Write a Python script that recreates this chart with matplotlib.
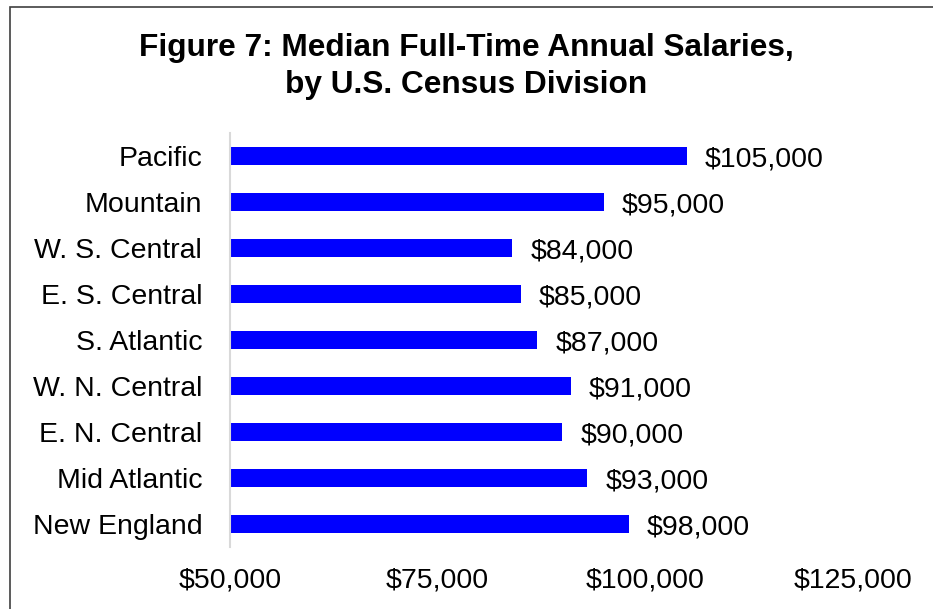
import matplotlib.pyplot as plt
from matplotlib.patches import Rectangle
from matplotlib.ticker import FuncFormatter

plt.rcParams['font.family'] = ['Liberation Sans', 'DejaVu Sans']

divisions = ["New England", "Mid Atlantic", "E. N. Central", "W. N. Central",
             "S. Atlantic", "E. S. Central", "W. S. Central", "Mountain", "Pacific"]
salaries = [98000, 93000, 90000, 91000, 87000, 85000, 84000, 95000, 105000]
x_ticks = [50000, 75000, 100000, 125000]

fig = plt.figure(figsize=(9.33, 6.09), dpi=100)
ax = fig.add_axes([0.2465, 0.1018, 0.6678, 0.6798])

pos = range(len(divisions))
ax.barh(pos, [s - x_ticks[0] for s in salaries], left=x_ticks[0], height=0.4,
        color='#0000FF', edgecolor='none')

for y, s in zip(pos, salaries):
    ax.annotate(f"${s:,.0f}", (s, y), xytext=(13, 0), textcoords='offset points',
                va='center_baseline', ha='left', fontsize=20.5, color='black')

ax.set_xlim(x_ticks[0], x_ticks[-1])
ax.set_ylim(-0.5, len(divisions) - 0.5)
ax.set_xticks(x_ticks)
ax.xaxis.set_major_formatter(FuncFormatter(lambda v, p: f"${v:,.0f}"))
ax.set_yticks(list(pos))
ax.set_yticklabels(divisions)
ax.tick_params(axis='x', length=0, pad=15, labelsize=20.5)
ax.tick_params(axis='y', length=0, pad=20, labelsize=20.5)

for side in ['top', 'right', 'bottom']:
    ax.spines[side].set_visible(False)
ax.spines['left'].set_color('#d9d9d9')
ax.spines['left'].set_linewidth(1.5)

fig.text(0.5, 0.891, "Figure 7: Median Full-Time Annual Salaries,\nby U.S. Census Division",
         ha='center', va='center', fontsize=22.8, fontweight='bold', linespacing=1.32)

# outer chart frame (runs off the right and bottom edges)
fig.patches.append(Rectangle((10 / 933, -0.1), 1.2, 1.1 - 7 / 609,
                             transform=fig.transFigure, fill=False,
                             edgecolor='#404040', linewidth=1.2))

fig.savefig("out.png", dpi=100)
